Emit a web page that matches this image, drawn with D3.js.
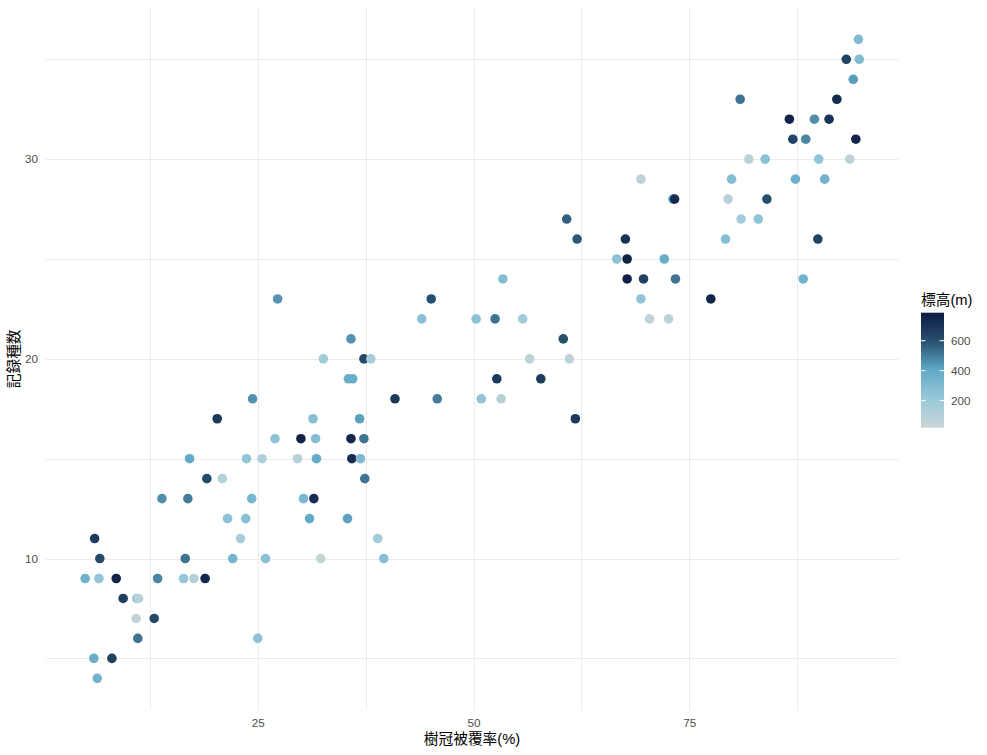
<!DOCTYPE html>
<html>
<head>
<meta charset="utf-8">
<script src="https://cdn.jsdelivr.net/npm/d3@7"></script>
<style>
  body { margin: 0; background: #fff; }
  text { font-family: "Liberation Sans", "Noto Sans CJK JP", sans-serif; }
</style>
</head>
<body>
<div id="canvas"></div>
<script>
// 樹冠被覆率(%), 記録種数, 標高(m) — one entry per site
var coverPct = [6.4,
  6.0, 8.1,
  11.1, 25.0,
  10.9, 13.0,
  9.4, 11.0, 11.2,
  5.0, 6.6, 8.6, 13.4, 16.4, 17.6, 18.9,
  6.7, 16.6, 22.1, 25.9, 32.3, 39.6,
  6.1, 23.0, 38.9,
  21.5, 23.6, 31.0, 35.4,
  13.9, 16.9, 24.3, 30.3, 31.5,
  19.1, 20.9, 37.4,
  17.1, 23.7, 25.5, 29.6, 31.8, 35.9, 36.9,
  27.0, 30.0, 31.7, 35.8, 37.3,
  20.3, 31.4, 36.8, 61.8,
  24.4, 40.9, 45.8, 50.9, 53.2,
  35.5, 36.0, 52.7, 57.8,
  32.6, 37.3, 38.1, 56.5, 61.1,
  35.8, 60.4,
  44.0, 50.3, 52.5, 55.7, 70.4, 72.6,
  27.3, 45.1, 69.4, 77.5,
  53.4, 67.8, 69.7, 73.4, 88.2,
  66.6, 67.8, 72.1,
  62.0, 67.6, 79.2, 89.9,
  60.8, 81.0, 83.0,
  73.1, 73.3, 79.5, 84.0,
  69.4, 79.9, 87.3, 90.7,
  81.9, 83.8, 90.0, 93.6,
  87.0, 88.5, 94.3,
  86.6, 89.5, 91.2,
  80.9, 92.1,
  94.0,
  93.2, 94.7,
  94.6];

var speciesCount = [4,
  5, 5,
  6, 6,
  7, 7,
  8, 8, 8,
  9, 9, 9, 9, 9, 9, 9,
  10, 10, 10, 10, 10, 10,
  11, 11, 11,
  12, 12, 12, 12,
  13, 13, 13, 13, 13,
  14, 14, 14,
  15, 15, 15, 15, 15, 15, 15,
  16, 16, 16, 16, 16,
  17, 17, 17, 17,
  18, 18, 18, 18, 18,
  19, 19, 19, 19,
  20, 20, 20, 20, 20,
  21, 21,
  22, 22, 22, 22, 22, 22,
  23, 23, 23, 23,
  24, 24, 24, 24, 24,
  25, 25, 25,
  26, 26, 26, 26,
  27, 27, 27,
  28, 28, 28, 28,
  29, 29, 29, 29,
  30, 30, 30, 30,
  31, 31, 31,
  32, 32, 32,
  33, 33,
  34,
  35, 35,
  36];

var elevation = [350,
  380, 650,
  520, 250,
  50, 620,
  660, 250, 80,
  350, 230, 750, 480, 220, 100, 740,
  620, 520, 330, 260, 40, 270,
  680, 150, 170,
  260, 270, 400, 420,
  460, 500, 330, 320, 720,
  620, 100, 520,
  400, 230, 120, 90, 400, 720, 300,
  250, 760, 280, 740, 520,
  680, 270, 420, 680,
  450, 680, 500, 240, 110,
  380, 380, 680, 670,
  180, 620, 150, 70, 60,
  450, 600,
  260, 250, 520, 170, 60, 60,
  450, 600, 230, 750,
  280, 760, 650, 520, 350,
  250, 760, 380,
  580, 700, 280, 640,
  560, 170, 240,
  380, 720, 90, 600,
  70, 280, 360, 350,
  80, 260, 240, 70,
  640, 480, 750,
  760, 460, 700,
  520, 720,
  430,
  640, 300,
  290];

var xTicks = [25, 50, 75];
var xMinor = [12.5, 37.5, 62.5, 87.5];
var yTicks = [10, 20, 30];
var yMinor = [5, 15, 25, 35];
var legendTicks = [200, 400, 600];
var elevRange = [19, 787];

var svgWidth = 987;
var svgHeight = 755;
var panel = {left: 46, right: 898, top: 7.4, bottom: 710.3};
var gridColor = '#ebebeb';
var tickTextColor = '#4d4d4d';

var points = coverPct.map(function (d, i) {
    return {x: d, y: speciesCount[i], elev: elevation[i]};
});

function expand(ext) {
    var pad = (ext[1] - ext[0]) * 0.05;
    return [ext[0] - pad, ext[1] + pad];
}

var xScale = d3.scaleLinear()
    .domain(expand([4.95, 94.7]))
    .range([panel.left, panel.right]);
var yScale = d3.scaleLinear()
    .domain(expand(d3.extent(speciesCount)))
    .range([panel.bottom, panel.top]);

var colorScale = d3.scaleLinear()
    .domain([19, 200, 400, 600, 787])
    .range(['#c9d6d5', '#9bcadb', '#62abc8', '#27506f', '#0b1b41'])
    .interpolate(d3.interpolateLab);

var svg = d3.select('#canvas')
    .append('svg')
    .attr('width', svgWidth)
    .attr('height', svgHeight);

// grid lines: minor and major draw the same (1px light grey)
function crisp(v) { return Math.round(v) + 0.5; }
var gridG = svg.append('g')
    .attr('stroke', gridColor)
    .attr('stroke-width', 1)
    .attr('shape-rendering', 'crispEdges');
gridG.selectAll('.vgrid').data(xMinor.concat(xTicks)).enter().append('line')
    .attr('x1', d => crisp(xScale(d))).attr('x2', d => crisp(xScale(d)))
    .attr('y1', panel.top).attr('y2', panel.bottom);
gridG.selectAll('.hgrid').data(yMinor.concat(yTicks)).enter().append('line')
    .attr('y1', d => crisp(yScale(d))).attr('y2', d => crisp(yScale(d)))
    .attr('x1', panel.left).attr('x2', panel.right);

// axes (labels only)
var xAxis = svg.append('g')
    .attr('transform', 'translate(0,' + (panel.bottom + 2) + ')')
    .call(d3.axisBottom(xScale).tickValues(xTicks).tickSize(0).tickPadding(6));
var yAxis = svg.append('g')
    .attr('transform', 'translate(' + (panel.left - 3) + ',0)')
    .call(d3.axisLeft(yScale).tickValues(yTicks).tickSize(0).tickPadding(5));
[xAxis, yAxis].forEach(function (ax) {
    ax.select('.domain').remove();
    ax.selectAll('text')
        .attr('fill', tickTextColor)
        .attr('font-size', '11.7px')
        .attr('font-family', '"Liberation Sans", sans-serif');
});

// points
svg.append('g').selectAll('circle')
    .data(points)
    .enter().append('circle')
    .attr('cx', d => xScale(d.x))
    .attr('cy', d => yScale(d.y))
    .attr('r', 4.8)
    .attr('fill', d => colorScale(d.elev));

// axis titles
svg.append('text')
    .attr('x', (panel.left + panel.right) / 2)
    .attr('y', 744)
    .attr('text-anchor', 'middle')
    .attr('font-size', '14.7px')
    .attr('fill', 'black')
    .text('樹冠被覆率(%)');

svg.append('text')
    .attr('transform', 'translate(19,' + (panel.top + panel.bottom) / 2 + ') rotate(-90)')
    .attr('text-anchor', 'middle')
    .attr('font-size', '14.7px')
    .attr('fill', 'black')
    .text('記録種数');

// legend colourbar
var barX = 921, barW = 23, barTop = 312.7, barBottom = 427.7;
var legendScale = d3.scaleLinear().domain(elevRange).range([barBottom, barTop]);

var defs = svg.append('defs');
var grad = defs.append('linearGradient')
    .attr('id', 'elevGrad')
    .attr('x1', 0).attr('y1', 1).attr('x2', 0).attr('y2', 0);
d3.range(0, 1.0001, 0.05).forEach(function (t) {
    var v = elevRange[0] + t * (elevRange[1] - elevRange[0]);
    grad.append('stop')
        .attr('offset', (t * 100) + '%')
        .attr('stop-color', colorScale(v));
});

svg.append('text')
    .attr('x', barX)
    .attr('y', 304.5)
    .attr('font-size', '14.7px')
    .attr('fill', 'black')
    .text('標高(m)');

svg.append('rect')
    .attr('x', barX)
    .attr('y', barTop)
    .attr('width', barW)
    .attr('height', barBottom - barTop)
    .attr('fill', 'url(#elevGrad)');

legendTicks.forEach(function (v) {
    var y = legendScale(v);
    svg.append('line')
        .attr('x1', barX).attr('x2', barX + 4.5)
        .attr('y1', y).attr('y2', y)
        .attr('stroke', 'white').attr('stroke-width', 1);
    svg.append('line')
        .attr('x1', barX + barW - 4.5).attr('x2', barX + barW)
        .attr('y1', y).attr('y2', y)
        .attr('stroke', 'white').attr('stroke-width', 1);
    svg.append('text')
        .attr('x', barX + barW + 7)
        .attr('y', y)
        .attr('dy', '0.35em')
        .attr('font-size', '11.7px')
        .attr('fill', tickTextColor)
        .attr('font-family', '"Liberation Sans", sans-serif')
        .text(v);
});
</script>
</body>
</html>
